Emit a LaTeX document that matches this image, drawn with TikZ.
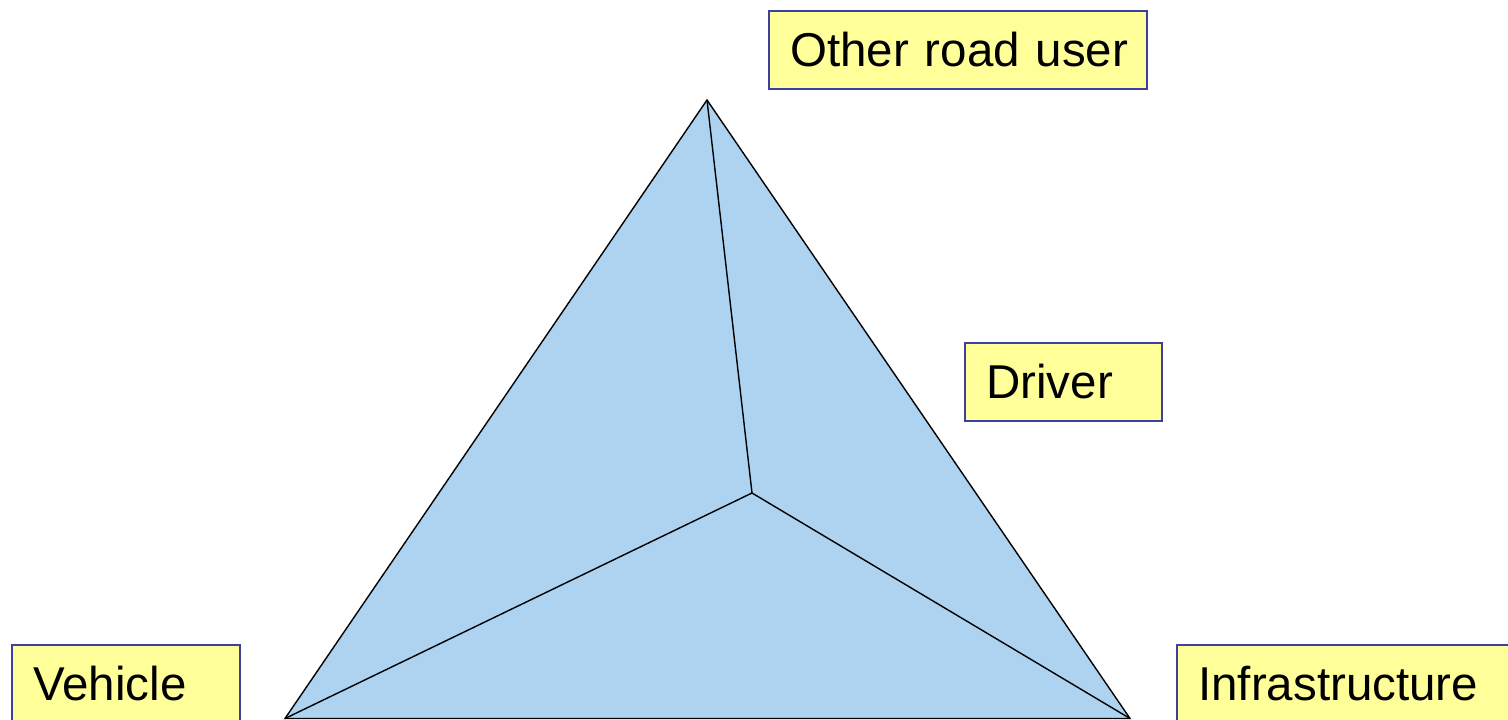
\documentclass[tikz,border=0pt]{standalone}
\usepackage{fontspec}
\setmainfont{Liberation Sans}
\definecolor{facefill}{HTML}{ADD3F1}
\definecolor{labelfill}{HTML}{FFFF99}
\definecolor{labeledge}{HTML}{3F3F9F}
\tikzset{
  label box/.style={draw=labeledge, line width=1.6pt, fill=labelfill,
    anchor=north west, minimum height=78pt, inner xsep=21.5pt, inner ysep=0pt,
    text height=34pt, text depth=0pt, font=\fontsize{47.5pt}{50pt}\selectfont, align=left},
  edge line/.style={draw=black, line width=1.4pt, line join=miter},
}
\begin{document}
\begin{tikzpicture}[x=1pt, y=-1pt]
  \useasboundingbox (0,0) rectangle (1508,720);
  \clip (0,0) rectangle (1508,720);
  \fill[white] (0,0) rectangle (1508,720);

  % corners of the pyramid and its inner vertex
  \coordinate (apex)  at (707,100);
  \coordinate (left)  at (285,718.5);
  \coordinate (right) at (1130,718.5);
  \coordinate (inner) at (752,493);

  \fill[facefill] (apex) -- (left) -- (right) -- cycle;
  \draw[edge line] (apex) -- (left) -- (right) -- cycle;
  \draw[edge line] (apex) -- (inner);
  \draw[edge line] (left) -- (inner);
  \draw[edge line] (right) -- (inner);

  % factor labels
  \node[label box, text width=335pt] (user) at (768,10) {\mbox{Other road user}};
  \node[label box, text width=154pt] (driver) at (964,342) {Driver};
  \node[label box, text width=185pt, minimum height=90pt] (vehicle) at (11,644) {\raisebox{6pt}{Vehicle}};
  \node[label box, text width=310pt, minimum height=90pt] (infra) at (1176,644) {\raisebox{6pt}{Infrastructure}};
\end{tikzpicture}
\end{document}
